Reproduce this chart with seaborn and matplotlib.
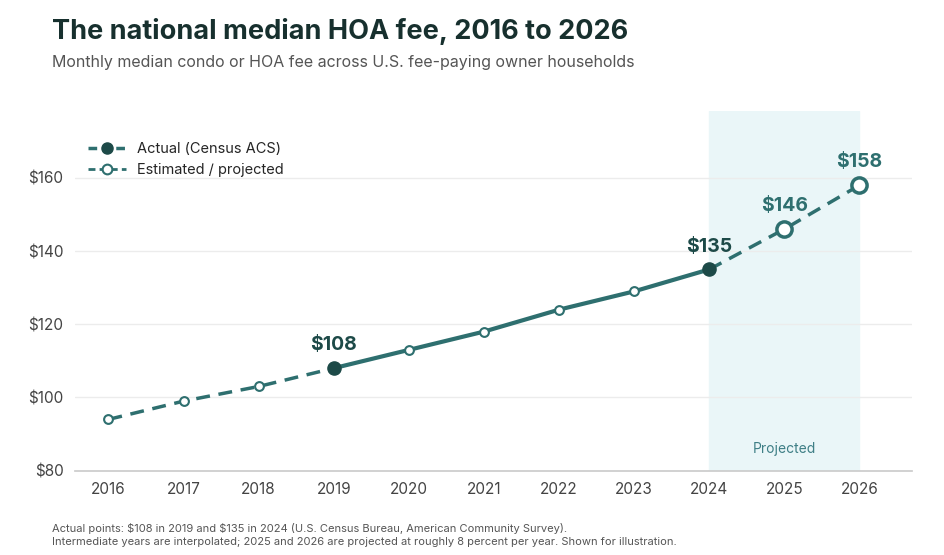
import numpy as np
import pandas as pd
import seaborn as sns
import matplotlib.pyplot as plt
from matplotlib.lines import Line2D

years = [2016, 2017, 2018, 2019, 2020, 2021, 2022, 2023, 2024, 2025, 2026]
fees = [94, 99, 103, 108, 113, 118, 124, 129, 135, 146, 158]
actual_years = [2019, 2024]
projected_years = [2025, 2026]

df = pd.DataFrame({"year": years, "fee": fees}).set_index("year")

sns.set_theme(style="white")
plt.rcParams['font.family'] = ['Inter', 'DejaVu Sans']
plt.rcParams['text.parse_math'] = False

teal = "#2e6f6f"
dark = "#1d4a48"
fig = plt.figure(figsize=(9.45, 5.55), dpi=100)
ax = fig.add_axes([0.079, 0.152, 0.886, 0.648])

ax.axvspan(2024, 2026, color="#eaf6f8", zorder=0)
ax.text(2025, 86, "Projected", ha="center", va="center", fontsize=10, color="#3f7f86")

seg1 = df.loc[2016:2019].reset_index()
seg2 = df.loc[2019:2024].reset_index()
seg3 = df.loc[2024:2026].reset_index()
sns.lineplot(data=seg1, x="year", y="fee", ax=ax, color=teal, lw=2.5, linestyle=(0, (4, 2.5)), zorder=2)
sns.lineplot(data=seg2, x="year", y="fee", ax=ax, color=teal, lw=3, zorder=2)
sns.lineplot(data=seg3, x="year", y="fee", ax=ax, color=teal, lw=2.5, linestyle=(0, (4, 2.5)), zorder=2)

small = [y for y in years if y not in actual_years + projected_years]
ax.scatter(small, df.loc[small, "fee"], s=40, facecolor="white", edgecolor=teal, linewidth=1.5, zorder=3)
ax.scatter(projected_years, df.loc[projected_years, "fee"], s=120, facecolor="white", edgecolor=teal, linewidth=2.5, zorder=3)
ax.scatter(actual_years, df.loc[actual_years, "fee"], s=90, facecolor=dark, edgecolor=dark, zorder=4)

for y in actual_years:
    ax.annotate(f"${df.loc[y, 'fee']}", (y, df.loc[y, 'fee']), xytext=(0, 10), textcoords="offset points",
                ha="center", va="bottom", fontsize=14, fontweight="bold", color=dark)
for y in projected_years:
    ax.annotate(f"${df.loc[y, 'fee']}", (y, df.loc[y, 'fee']), xytext=(0, 10), textcoords="offset points",
                ha="center", va="bottom", fontsize=14, fontweight="bold", color=teal)

ax.set_xlim(2015.55, 2026.7)
ax.set_ylim(80, 178.3)
ax.set_xticks(years)
ax.set_yticks([80, 100, 120, 140, 160])
ax.set_yticklabels([f"${v}" for v in [80, 100, 120, 140, 160]])
ax.yaxis.grid(True, color="#ececec", lw=1)
ax.set_axisbelow(True)
for s in ["top", "right", "left"]:
    ax.spines[s].set_visible(False)
ax.spines["bottom"].set_color("#cccccc")
ax.tick_params(axis="both", colors="#444444", labelsize=11, length=0, pad=8)
ax.set_xlabel("")
ax.set_ylabel("")

handles = [
    Line2D([0], [0], color=teal, lw=2.5, linestyle=(0, (2.5, 1.5)), marker="o", markersize=8,
           markerfacecolor=dark, markeredgecolor=dark),
    Line2D([0], [0], color=teal, lw=2, linestyle=(0, (2.5, 1.5)), marker="o", markersize=7,
           markerfacecolor="white", markeredgecolor=teal, markeredgewidth=1.5),
]
ax.legend(handles, ["Actual (Census ACS)", "Estimated / projected"], loc="upper left",
          bbox_to_anchor=(0.0, 0.95), frameon=False, fontsize=10.5, handlelength=2.6)

fig.text(0.055, 0.93, "The national median HOA fee, 2016 to 2026", fontsize=19.5, fontweight="bold", color="#17302e")
fig.text(0.055, 0.88, "Monthly median condo or HOA fee across U.S. fee-paying owner households", fontsize=11.5, color="#555555")
fig.text(0.055, 0.042, "Actual points: $108 in 2019 and $135 in 2024 (U.S. Census Bureau, American Community Survey).",
         fontsize=8, color="#555555")
fig.text(0.055, 0.018, "Intermediate years are interpolated; 2025 and 2026 are projected at roughly 8 percent per year. Shown for illustration.",
         fontsize=8, color="#555555")

fig.savefig("out.png", dpi=100)
